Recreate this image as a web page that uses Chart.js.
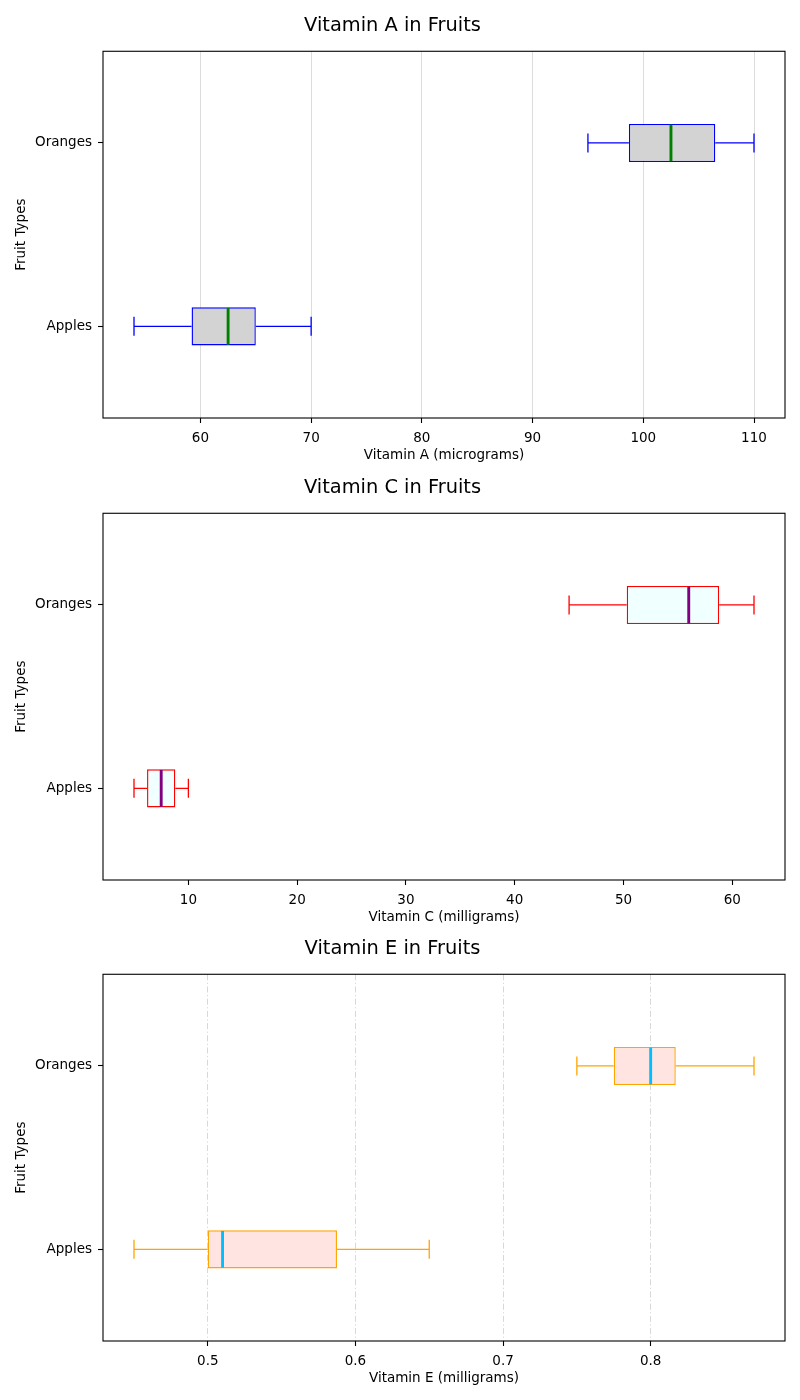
<!DOCTYPE html>
<html>
<head>
<meta charset="utf-8">
<script src="https://cdn.jsdelivr.net/npm/chart.js@4.4.1/dist/chart.umd.min.js"></script>
<style>
  html, body { margin: 0; padding: 0; background: #fff; }
  .wrap { position: absolute; left: 0; width: 800px; height: 464px; }
</style>
</head>
<body>
<div class="wrap" style="top:0px"><canvas id="cA"></canvas></div>
<div class="wrap" style="top:462px"><canvas id="cC"></canvas></div>
<div class="wrap" style="top:923px"><canvas id="cE"></canvas></div>
<script>
// categories (bottom to top, like the matplotlib positions 1, 2)
const fruits = ["Apples", "Oranges"];

// five-number summaries per fruit: [low whisker, q1, median, q3, high whisker]
const vitA_apples  = [54, 59.2, 62.5, 65, 70];
const vitA_oranges = [95, 98.7, 102.5, 106.5, 110];
const vitC_apples  = [5, 6.2, 7.5, 8.8, 10];
const vitC_oranges = [45, 50.3, 56, 58.8, 62];
const vitE_apples  = [0.45, 0.5, 0.51, 0.5875, 0.65];
const vitE_oranges = [0.75, 0.775, 0.8, 0.817, 0.87];

const FONT = "'DejaVu Sans', sans-serif";
Chart.defaults.font.family = FONT;
Chart.defaults.color = "#000";
Chart.defaults.animation = false;
Chart.defaults.maintainAspectRatio = false;
Chart.defaults.plugins.legend.display = false;
Chart.defaults.plugins.tooltip.enabled = false;

// whiskers, caps, medians and the axes frame, drawn through the chart's scales
const boxExtras = {
  id: "boxExtras",
  afterDatasetsDraw(chart) {
    const { ctx, chartArea: a, scales: { x, y } } = chart;
    const o = chart.options.plugins.boxExtras;
    const meta = chart.getDatasetMeta(0);
    o.stats.forEach((s, i) => {
      const yc = y.getPixelForValue(i);
      const bar = meta.data[i];
      const half = Math.abs(bar.height) / 2;
      const [lo, q1, med, q3, hi] = s.map((v) => x.getPixelForValue(v));
      ctx.save();
      ctx.strokeStyle = o.edge;
      ctx.lineWidth = 1.3;
      ctx.beginPath();
      ctx.moveTo(lo, yc); ctx.lineTo(q1, yc);
      ctx.moveTo(q3, yc); ctx.lineTo(hi, yc);
      ctx.moveTo(lo, yc - half / 2); ctx.lineTo(lo, yc + half / 2);
      ctx.moveTo(hi, yc - half / 2); ctx.lineTo(hi, yc + half / 2);
      ctx.stroke();
      ctx.strokeStyle = o.median;
      ctx.lineWidth = 2.9;
      ctx.beginPath();
      ctx.moveTo(med, yc - half + 0.7); ctx.lineTo(med, yc + half - 0.7);
      ctx.stroke();
      ctx.restore();
    });
    ctx.save();
    ctx.strokeStyle = "#000";
    ctx.lineWidth = 1.1;
    ctx.strokeRect(a.left, a.top, a.right - a.left, a.bottom - a.top);
    ctx.restore();
  },
};

function boxChart(id, o) {
  const stats = [o.apples, o.oranges];
  return new Chart(document.getElementById(id), {
    type: "bar",
    data: {
      labels: fruits,
      datasets: [{
        data: stats.map((s) => [s[1], s[3]]),
        backgroundColor: o.fill,
        borderColor: o.edge,
        borderWidth: 1.4,
        borderSkipped: false,
        barPercentage: 0.208,
        categoryPercentage: 1,
      }],
    },
    options: {
      indexAxis: "y",
      layout: { padding: { left: 0, right: 15, top: 0, bottom: 0 } },
      scales: {
        x: {
          min: o.min, max: o.max,
          afterFit: (s) => { s.height = 46; },
          ticks: { stepSize: o.step, includeBounds: false, padding: 7, font: { size: 13.5 }, color: "#000" },
          grid: {
            display: true,
            drawOnChartArea: o.grid !== "none",
            color: o.gridColor || "#dcdcdc",
            lineWidth: 1,
            drawTicks: true, tickLength: 5, tickColor: "#000", tickWidth: 1.1,
          },
          border: { display: false, dash: o.grid === "dashdot" ? [6, 2.5, 1.2, 2.5] : [] },
          title: { display: true, text: o.xlabel, font: { size: 13.5 }, color: "#000", padding: { top: 0, bottom: 0 } },
        },
        y: {
          reverse: true,
          afterFit: (s) => { s.width = 103; },
          ticks: { padding: 6, font: { size: 13.5 }, color: "#000" },
          grid: { offset: false, drawOnChartArea: false, drawTicks: true, tickLength: 5, tickColor: "#000", tickWidth: 1.1 },
          border: { display: false },
          title: { display: true, text: "Fruit Types", font: { size: 13.5 }, color: "#000", padding: { top: 13, bottom: 0 } },
        },
      },
      plugins: {
        title: {
          display: true, text: o.title, color: "#000",
          font: { size: 19.4, weight: "normal" },
          padding: { top: 14.5, bottom: 13.5 },
        },
        boxExtras: { stats, edge: o.edge, median: o.median },
      },
    },
    plugins: [boxExtras],
  });
}

boxChart("cA", {
  title: "Vitamin A in Fruits", xlabel: "Vitamin A (micrograms)",
  apples: vitA_apples, oranges: vitA_oranges,
  min: 51.2, max: 112.8, step: 10,
  fill: "#d3d3d3", edge: "#0000ff", median: "#008000",
  grid: "solid", gridColor: "#dcdcdc",
});
boxChart("cC", {
  title: "Vitamin C in Fruits", xlabel: "Vitamin C (milligrams)",
  apples: vitC_apples, oranges: vitC_oranges,
  min: 2.15, max: 64.85, step: 10,
  fill: "#f0ffff", edge: "#ff0000", median: "#800080",
  grid: "none",
});
boxChart("cE", {
  title: "Vitamin E in Fruits", xlabel: "Vitamin E (milligrams)",
  apples: vitE_apples, oranges: vitE_oranges,
  min: 0.429, max: 0.891, step: 0.1,
  fill: "#ffe4e1", edge: "#ffa500", median: "#00bfff",
  grid: "dashdot", gridColor: "#d8d8d8",
});
</script>
</body>
</html>
